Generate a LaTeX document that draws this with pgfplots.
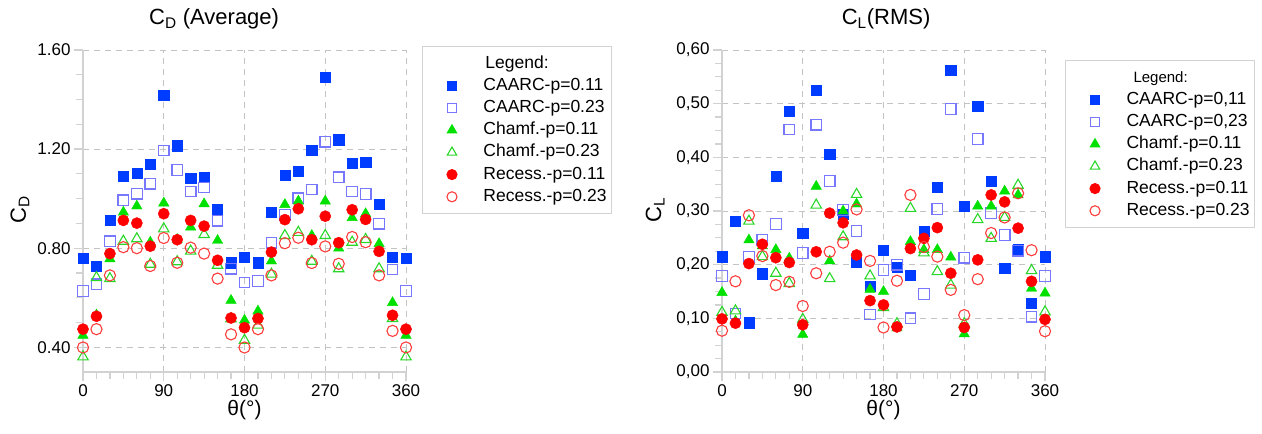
\documentclass[border=0pt]{standalone}
\usepackage{pgfplots}
\usepackage{pgfplotstable}
\pgfplotsset{compat=1.18}
\usepackage{fontspec}
\setmainfont{Liberation Sans}
\definecolor{cblue}{RGB}{0,60,255}
\definecolor{cblueo}{RGB}{120,120,255}
\definecolor{cgreen}{RGB}{0,225,0}
\definecolor{cgreeno}{RGB}{40,215,40}
\definecolor{cred}{RGB}{255,0,0}
\definecolor{credo}{RGB}{255,60,60}
\definecolor{gridc}{RGB}{195,195,195}
\definecolor{axc}{RGB}{210,210,210}

\pgfplotstableread{
t cb cbo cg cgo cr cro
0 0.760 0.627 0.448 0.361 0.473 0.399
15 0.728 0.654 0.530 0.681 0.525 0.473
30 0.912 0.828 0.757 0.677 0.778 0.690
45 1.090 0.993 0.945 0.828 0.912 0.804
60 1.103 1.020 0.970 0.838 0.901 0.800
75 1.140 1.060 0.824 0.735 0.808 0.728
90 1.416 1.194 0.982 0.878 0.939 0.841
105 1.214 1.116 0.835 0.745 0.834 0.741
120 1.082 1.029 0.885 0.788 0.912 0.802
135 1.086 1.045 0.979 0.855 0.889 0.778
150 0.955 0.911 0.831 0.731 0.751 0.677
165 0.741 0.717 0.589 0.515 0.518 0.452
180 0.762 0.661 0.509 0.428 0.479 0.399
195 0.741 0.667 0.546 0.489 0.516 0.473
210 0.945 0.822 0.748 0.695 0.784 0.690
225 1.093 0.935 0.976 0.851 0.915 0.820
240 1.111 1.001 0.990 0.864 0.959 0.842
255 1.197 1.037 0.851 0.747 0.834 0.740
270 1.489 1.230 0.990 0.851 0.929 0.807
285 1.238 1.086 0.800 0.717 0.822 0.737
300 1.144 1.029 0.923 0.824 0.955 0.845
315 1.147 1.019 0.939 0.835 0.916 0.824
330 0.979 0.899 0.818 0.717 0.787 0.690
345 0.764 0.714 0.580 0.516 0.529 0.466
360 0.760 0.627 0.448 0.361 0.473 0.399
}\cdtable

\pgfplotstableread{
t cb cbo cg cgo cr cro
0 0.215 0.179 0.148 0.111 0.099 0.077
15 0.281 0.109 0.095 0.114 0.091 0.169
30 0.092 0.215 0.246 0.281 0.202 0.292
45 0.183 0.246 0.235 0.215 0.238 0.216
60 0.365 0.276 0.228 0.184 0.213 0.162
75 0.486 0.452 0.212 0.165 0.204 0.168
90 0.258 0.222 0.070 0.098 0.088 0.123
105 0.525 0.461 0.346 0.311 0.224 0.184
120 0.406 0.356 0.207 0.174 0.296 0.224
135 0.294 0.302 0.300 0.252 0.278 0.241
150 0.205 0.263 0.313 0.331 0.218 0.303
165 0.160 0.107 0.154 0.179 0.133 0.207
180 0.227 0.190 0.150 0.120 0.125 0.083
195 0.196 0.200 0.082 0.090 0.084 0.170
210 0.181 0.100 0.243 0.305 0.230 0.330
225 0.263 0.145 0.228 0.222 0.249 0.233
240 0.345 0.304 0.228 0.187 0.269 0.215
255 0.562 0.490 0.214 0.162 0.184 0.153
270 0.309 0.213 0.071 0.090 0.083 0.106
285 0.495 0.434 0.309 0.284 0.209 0.173
300 0.356 0.296 0.309 0.249 0.330 0.259
315 0.193 0.255 0.337 0.288 0.317 0.288
330 0.228 0.226 0.330 0.348 0.268 0.333
345 0.128 0.103 0.156 0.189 0.169 0.227
360 0.215 0.179 0.147 0.112 0.098 0.076
}\cltable

\pgfplotsset{
  mystyle/.style={
    scale only axis, width=323pt, height=322pt,
    xmin=0, xmax=360, xtick={0,90,180,270,360}, minor x tick num=5,
    minor y tick num=3,
    axis x line*=bottom, axis y line*=left,
    axis line style={draw=axc, line width=1.2pt},
    grid=major,
    major grid style={draw=gridc, dash pattern=on 6pt off 5pt, line width=0.9pt},
    tick align=outside, major tick length=9pt, minor tick length=7pt,
    every tick/.style={draw=axc, line width=1.2pt},
    tick label style={font=\fontsize{17}{20}\selectfont},
    /pgf/number format/assume math mode=true,
    clip=false,
    xlabel={θ(°)},
    xlabel style={font=\fontsize{21}{24}\selectfont, at={(axis description cs:0.5,-0.118)}, anchor=center},
    ylabel style={font=\fontsize{22}{26}\selectfont, anchor=center},
    title style={font=\fontsize{22}{26}\selectfont, anchor=center},
    legend cell align=left,
    legend image code/.code={\path (0pt,0pt) (55pt,0pt);
      \draw[#1, /tikz/every mark/.append style={scale=0.9}, mark repeat=2, mark phase=2] plot coordinates {(0pt,0pt)(26pt,0pt)(52pt,0pt)};},
    legend style={draw=gray!35, line width=1pt, fill=white,
      font=\fontsize{17.5}{21}\selectfont,
      nodes={inner ysep=2.6pt, text height=13pt, text depth=4pt},
      inner xsep=3pt, inner ysep=6pt, column sep=0pt},
  },
  sB/.style={only marks, mark=square*, mark size=5.1pt, color=cblue},
  sBo/.style={only marks, mark=square, mark size=5.3pt, color=cblueo, mark options={line width=1.2pt}},
  sG/.style={only marks, mark=triangle*, mark size=6pt, color=cgreen},
  sGo/.style={only marks, mark=triangle, mark size=6pt, color=cgreeno, mark options={line width=1.1pt}},
  sR/.style={only marks, mark=*, mark size=5.6pt, color=cred},
  sRo/.style={only marks, mark=o, mark size=5.6pt, color=credo, mark options={line width=1.1pt}},
}

\begin{document}
\begin{tikzpicture}
\useasboundingbox (0,0) rectangle (1262pt,434pt);
\begin{axis}[mystyle, at={(83pt,62pt)}, anchor=south west,
  ymin=0.3, ymax=1.6, ytick={0.4,0.8,1.2,1.6},
  yticklabel style={/pgf/number format/.cd, fixed, fixed zerofill, precision=2},
  ylabel={C\textsubscript{D}},
  ylabel style={at={(axis description cs:-0.195,0.503)}},
  title={C\textsubscript{D} (Average)},
  title style={at={(axis description cs:0.406,1.078)}},
  legend style={at={(axis description cs:1.0495,1.0124)}, anchor=north west},
]
\addlegendimage{empty legend}
\addlegendentry{\hspace{2pt}Legend:}
\addplot[sB] table[x=t,y=cb]{\cdtable}; \addlegendentry{CAARC-p=0.11}
\addplot[sBo] table[x=t,y=cbo]{\cdtable}; \addlegendentry{CAARC-p=0.23}
\addplot[sG] table[x=t,y=cg]{\cdtable}; \addlegendentry{Chamf.-p=0.11}
\addplot[sGo] table[x=t,y=cgo]{\cdtable}; \addlegendentry{Chamf.-p=0.23}
\addplot[sR] table[x=t,y=cr]{\cdtable}; \addlegendentry{Recess.-p=0.11}
\addplot[sRo] table[x=t,y=cro]{\cdtable}; \addlegendentry{Recess.-p=0.23}
\end{axis}

\begin{axis}[mystyle, at={(722pt,62pt)}, anchor=south west,
  ymin=0, ymax=0.6, ytick={0,0.1,...,0.6},
  yticklabel style={/pgf/number format/.cd, fixed, fixed zerofill, precision=2, use comma},
  ylabel={C\textsubscript{L}},
  ylabel style={at={(axis description cs:-0.207,0.503)}},
  title={C\textsubscript{L}(RMS)},
  title style={at={(axis description cs:0.508,1.078)}},
  legend style={at={(axis description cs:1.062,0.969)}, anchor=north west},
]
\addlegendimage{empty legend}
\addlegendentry{\hspace{7pt}\fontsize{15}{18}\selectfont Legend:}
\addplot[sB] table[x=t,y=cb]{\cltable}; \addlegendentry{CAARC-p=0,11}
\addplot[sBo] table[x=t,y=cbo]{\cltable}; \addlegendentry{CAARC-p=0,23}
\addplot[sG] table[x=t,y=cg]{\cltable}; \addlegendentry{Chamf.-p=0.11}
\addplot[sGo] table[x=t,y=cgo]{\cltable}; \addlegendentry{Chamf.-p=0.23}
\addplot[sR] table[x=t,y=cr]{\cltable}; \addlegendentry{Recess.-p=0.11}
\addplot[sRo] table[x=t,y=cro]{\cltable}; \addlegendentry{Recess.-p=0.23}
\end{axis}
\end{tikzpicture}
\end{document}
